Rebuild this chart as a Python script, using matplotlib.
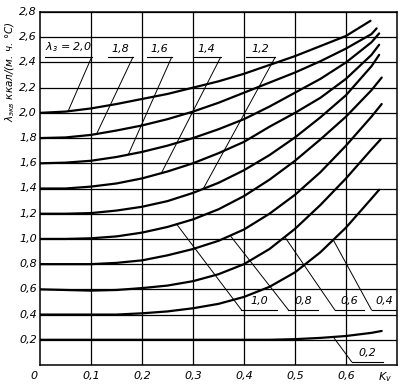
import numpy as np
import matplotlib
matplotlib.use("Agg")
import matplotlib.pyplot as plt

# Kv grid of the read points
kv = [0.0, 0.05, 0.1, 0.15, 0.2, 0.25, 0.3, 0.35, 0.4, 0.45, 0.5, 0.55, 0.6, 0.65]

# lambda_eq for each lambda_z curve
lam_20 = [2.00, 2.01, 2.035, 2.07, 2.11, 2.15, 2.20, 2.25, 2.31, 2.38, 2.45, 2.53, 2.61]
lam_18 = [1.80, 1.805, 1.825, 1.86, 1.90, 1.95, 2.01, 2.08, 2.16, 2.24, 2.32, 2.41, 2.51, 2.625]
lam_16 = [1.60, 1.605, 1.62, 1.65, 1.69, 1.74, 1.80, 1.87, 1.95, 2.05, 2.16, 2.27, 2.40, 2.56]
lam_14 = [1.40, 1.40, 1.415, 1.44, 1.48, 1.535, 1.60, 1.68, 1.77, 1.89, 2.00, 2.12, 2.27, 2.46]
lam_12 = [1.20, 1.20, 1.205, 1.225, 1.255, 1.30, 1.365, 1.445, 1.545, 1.665, 1.805, 1.965, 2.14, 2.37]
lam_10 = [1.00, 1.00, 1.005, 1.02, 1.05, 1.095, 1.155, 1.235, 1.34, 1.47, 1.62, 1.79, 1.97, 2.18]
lam_08 = [0.80, 0.80, 0.80, 0.81, 0.83, 0.87, 0.92, 0.985, 1.075, 1.20, 1.35, 1.53, 1.74, 1.97]
lam_06 = [0.60, 0.595, 0.59, 0.595, 0.61, 0.63, 0.665, 0.72, 0.80, 0.92, 1.08, 1.27, 1.48, 1.71]
lam_04 = [0.40, 0.40, 0.40, 0.40, 0.41, 0.425, 0.45, 0.485, 0.54, 0.62, 0.735, 0.895, 1.09, 1.32]
lam_02 = [0.20, 0.20, 0.20, 0.20, 0.20, 0.20, 0.20, 0.20, 0.20, 0.20, 0.205, 0.215, 0.23, 0.255]

# where each curve stops (Kv, value)
end_kv = [0.648, 0.66, 0.665, 0.665, 0.665, 0.67, 0.67, 0.668, 0.665, 0.67]
end_val = [2.73, 2.67, 2.63, 2.54, 2.46, 2.28, 2.07, 1.79, 1.39, 0.27]

curves = [lam_20, lam_18, lam_16, lam_14, lam_12, lam_10, lam_08, lam_06, lam_04, lam_02]
names = ["2,0", "1,8", "1,6", "1,4", "1,2", "1,0", "0,8", "0,6", "0,4", "0,2"]

# leader lines: Kv where the leader touches the curve, underline start/end
lead_kv = [0.055, 0.111, 0.173, 0.238, 0.32, 0.268, 0.373, 0.48, 0.575, 0.575]
line_x0 = [0.010, 0.133, 0.210, 0.300, 0.404, 0.395, 0.487, 0.578, 0.650, 0.611]
line_x1 = [0.101, 0.182, 0.258, 0.354, 0.461, 0.464, 0.546, 0.635, 0.699, 0.673]
line_y = [2.44, 2.44, 2.44, 2.44, 2.44, 0.437, 0.437, 0.437, 0.437, 0.026]

xticks = [0.1, 0.2, 0.3, 0.4, 0.5, 0.6]
yticks = [0.2, 0.4, 0.6, 0.8, 1.0, 1.2, 1.4, 1.6, 1.8, 2.0, 2.2, 2.4, 2.6, 2.8]

fig = plt.figure(figsize=(4.07, 3.92), dpi=100)
ax = fig.add_axes([40 / 407, 27 / 392, 357 / 407, 353 / 392])
ax.set_xlim(0, 0.7)
ax.set_ylim(0, 2.8)

for x in xticks:
    ax.axvline(x, color="black", lw=0.9)
for y in yticks:
    ax.axhline(y, color="black", lw=0.9)
for s in ax.spines.values():
    s.set_linewidth(1.1)

for vals, ek, ev in zip(curves, end_kv, end_val):
    xs = kv[:len(vals)] + [ek]
    ax.plot(xs, vals + [ev], color="black", lw=1.6, solid_capstyle="round",
            solid_joinstyle="round")

font = dict(style="italic", fontsize=8, color="black")

# labels with leaders
for i, name in enumerate(names):
    xs = kv[:len(curves[i])] + [end_kv[i]]
    tx = lead_kv[i]
    ty = np.interp(tx, xs, curves[i] + [end_val[i]])
    if line_y[i] > 1:
        # upper labels: leader from the right end of the underline
        ax.plot([tx, line_x1[i]], [ty, line_y[i]], color="black", lw=0.7)
    else:
        ax.plot([tx, line_x0[i]], [ty, line_y[i]], color="black", lw=0.7)
    ax.plot([line_x0[i], line_x1[i]], [line_y[i], line_y[i]], color="black", lw=0.8)
    label = name
    if i == 0:
        label = r"$\lambda_з$ = 2,0"
    ax.text((line_x0[i] + line_x1[i]) / 2, line_y[i] + 0.03, label,
            ha="center", va="bottom", **font)

ax.set_xticks([])
ax.set_yticks([])
ax.tick_params(length=0)

for x in xticks:
    ax.text(x, -0.045, ("%.1f" % x).replace(".", ","), ha="center", va="top",
            **font)
ax.text(-0.012, -0.045, "0", ha="center", va="top", **font)
ax.text(0.677, -0.045, r"$K_v$", ha="center", va="top", **font)
for y in yticks:
    ax.text(-0.006, y, ("%.1f" % y).replace(".", ","), ha="right", va="center",
            **font)

fig.text(10 / 407, 1 - 72 / 392, r"$\lambda_{экв}$ ккал/(м. ч. °С)", rotation=90,
         ha="center", va="center", style="italic", fontsize=7.5)

fig.savefig("out.png", dpi=100)
